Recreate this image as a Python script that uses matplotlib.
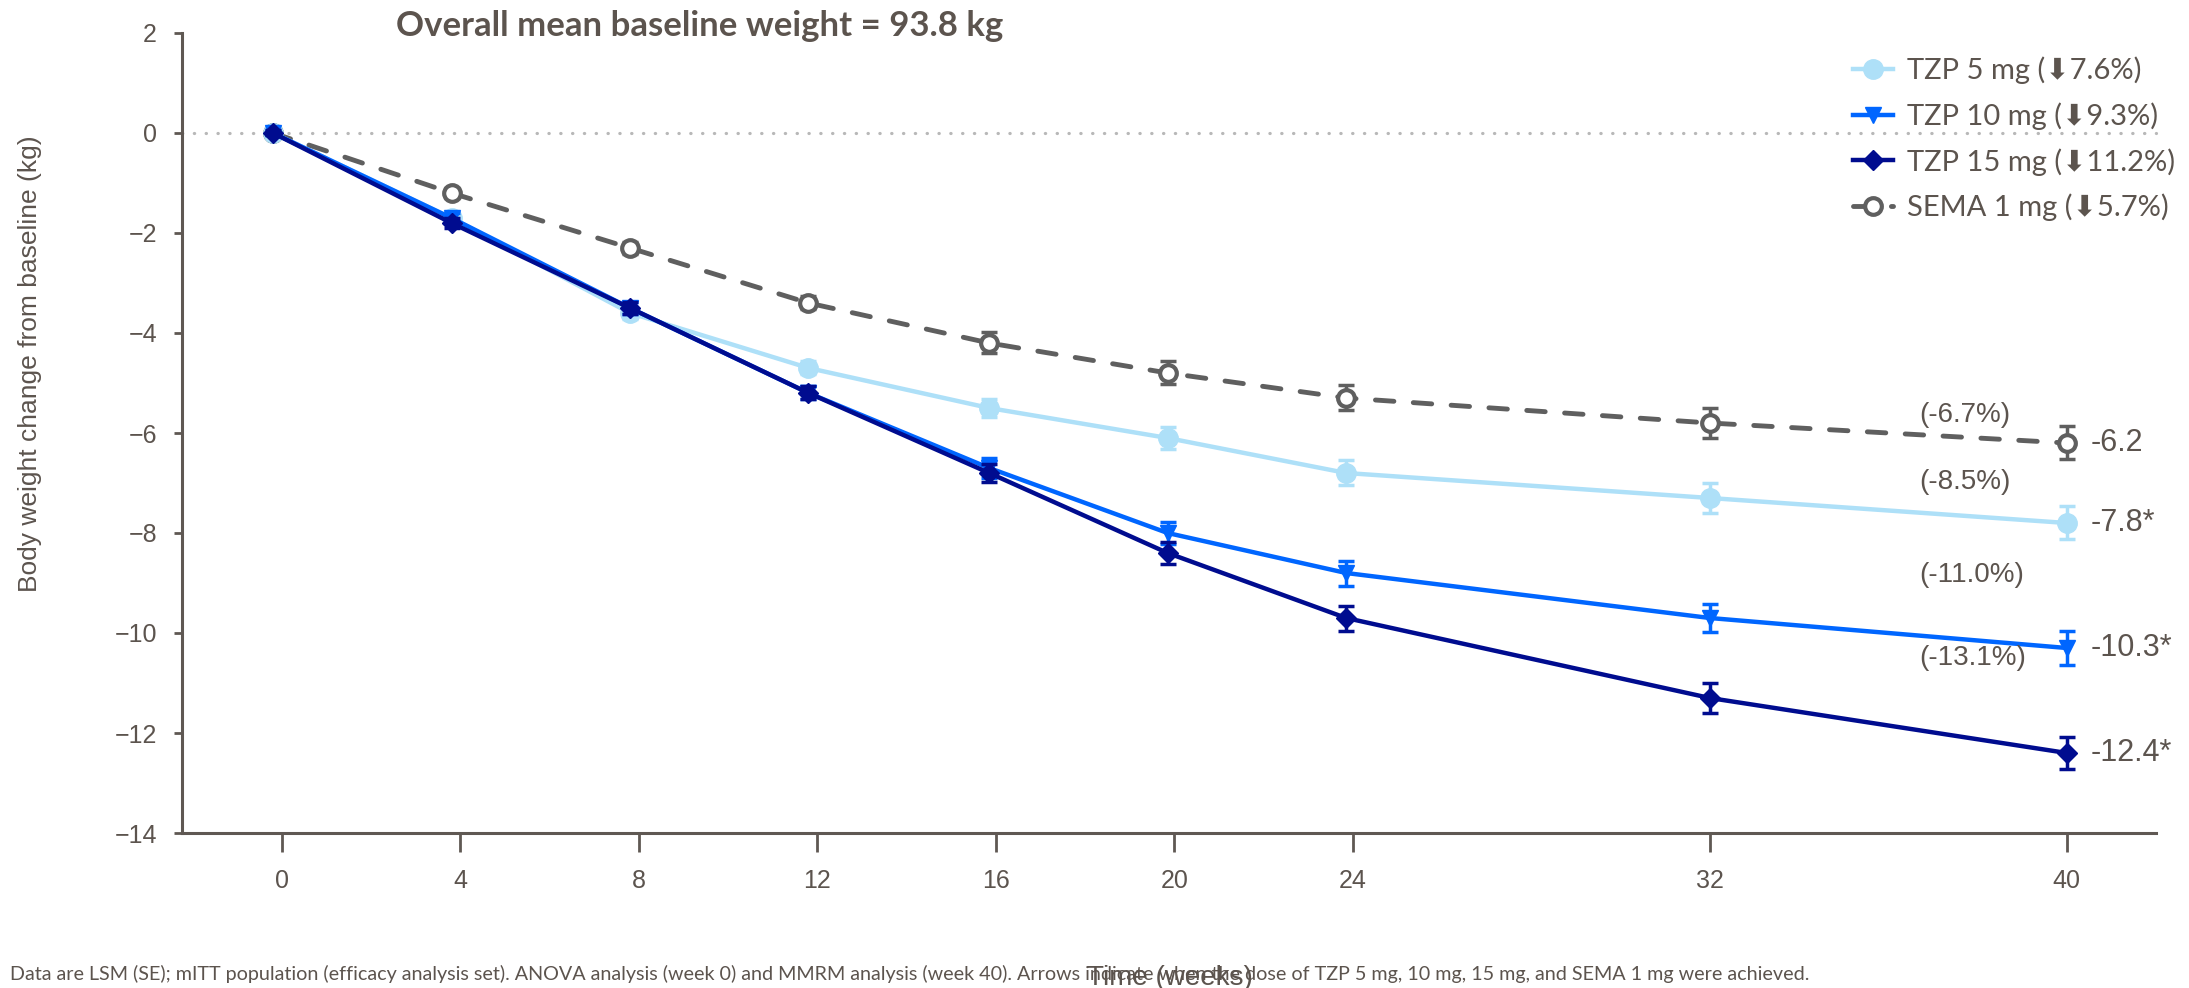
import numpy as np
import matplotlib.pyplot as plt

# visits (weeks) and the plotted visit positions
weeks = [0, 4, 8, 12, 16, 20, 24, 32, 40]
visit_pos = [-0.2, 3.8, 7.8, 11.8, 15.85, 19.85, 23.85, 32, 40]

# LSM change from baseline (kg)
tzp5 = [0, -1.7, -3.6, -4.7, -5.5, -6.1, -6.8, -7.3, -7.8]
tzp10 = [0, -1.7, -3.5, -5.2, -6.7, -8.0, -8.8, -9.7, -10.3]
tzp15 = [0, -1.8, -3.5, -5.2, -6.8, -8.4, -9.7, -11.3, -12.4]
sema1 = [0, -1.2, -2.3, -3.4, -4.2, -4.8, -5.3, -5.8, -6.2]

# SE
se5 = [0.05, 0.1, 0.12, 0.13, 0.18, 0.22, 0.25, 0.3, 0.33]
se10 = [0.05, 0.1, 0.12, 0.13, 0.2, 0.22, 0.25, 0.29, 0.34]
se15 = [0.05, 0.1, 0.12, 0.13, 0.18, 0.22, 0.25, 0.3, 0.32]
sema_se = [0.05, 0.1, 0.12, 0.13, 0.21, 0.23, 0.25, 0.3, 0.33]

labels = ["TZP 5 mg", "TZP 10 mg", "TZP 15 mg", "SEMA 1 mg"]
pct_drop = [7.6, 9.3, 11.2, 5.7]
pct_week40 = ["(-8.5%)", "(-11.0%)", "(-13.1%)", "(-6.7%)"]
stars = ["*", "*", "*", ""]

txt = "#5c544e"
spine_c = "#5f5853"
colors = ["#aee0f8", "#0066ff", "#000c8f", "#5f5f5f"]
arial = ["Liberation Sans", "DejaVu Sans"]
cal = ["Lato", "DejaVu Sans"]

fig = plt.figure(figsize=(21.89, 9.88), dpi=100)
ax = fig.add_axes([182 / 2189, 1 - 833 / 988, (2156 - 182) / 2189, (833 - 33) / 988])
ax.set_xlim(-2.24, 42)
ax.set_ylim(-14, 2)

ax.axhline(0, color="#b8b8b8", lw=2.3, dashes=(0.1, 3.6), dash_capstyle="round",
           zorder=0, clip_on=False)

series = [tzp5, tzp10, tzp15, sema1]
ses = [se5, se10, se15, sema_se]
markers = ["o", "v", "D", "o"]
msizes = [14, 11, 10.5, 12]
zs = [2, 3, 4, 1]
handles = []
for i in range(4):
    c = colors[i]
    ax.errorbar(visit_pos, series[i], yerr=ses[i], fmt="none", ecolor=c,
                elinewidth=2.5, capsize=6, capthick=2.5, zorder=zs[i])
    if i == 3:
        ln, = ax.plot(visit_pos, series[i], color=c, lw=3.5, dashes=(3.8, 4.0),
                      dash_capstyle="round", marker="o", ms=msizes[i],
                      mfc="white", mec=c, mew=3, zorder=zs[i])
    else:
        ln, = ax.plot(visit_pos, series[i], color=c, lw=3.2, marker=markers[i],
                      ms=msizes[i], mfc=c, mec=c, zorder=zs[i])
    handles.append(ln)

# end-of-study labels
pct_y = [-6.98, -8.84, -10.5, -5.64]
for i in range(4):
    ax.text(40.54, series[i][-1], f"{series[i][-1]:.1f}{stars[i]}", color=txt,
            fontsize=22, family=arial, va="center", ha="left")
    ax.text(36.7, pct_y[i], pct_week40[i], color=txt, fontsize=20,
            family=arial, va="center", ha="left")

for s in ["top", "right"]:
    ax.spines[s].set_visible(False)
for s in ["left", "bottom"]:
    ax.spines[s].set_color(spine_c)
    ax.spines[s].set_linewidth(2.2)

ax.set_xticks(weeks)
ax.set_yticks(np.arange(-14, 3, 2))
ax.tick_params(axis="x", length=14, width=2, color=spine_c, pad=12,
               labelsize=18, labelcolor=txt)
ax.tick_params(axis="y", length=6, width=2, color=spine_c, pad=12,
               labelsize=18, labelcolor=txt)
for lab in ax.get_xticklabels() + ax.get_yticklabels():
    lab.set_family(arial)

fig.text(30 / 2189, 1 - 135 / 988, "Body weight change from baseline (kg)",
         rotation=90, ha="center", va="top", fontsize=19, color=txt, family=arial)
fig.text(1170 / 2189, 1 - 978 / 988, "Time (weeks)", ha="center", va="center",
         fontsize=20, color=txt, family=arial)
fig.text(10 / 2189, 1 - 974 / 988,
         "Data are LSM (SE); mITT population (efficacy analysis set). ANOVA analysis "
         "(week 0) and MMRM analysis (week 40). Arrows indicate when the dose of "
         "TZP 5 mg, 10 mg, 15 mg, and SEMA 1 mg were achieved.",
         ha="left", va="center", fontsize=14.2, color=txt, family=cal)
fig.text(700 / 2189, 1 - 26 / 988, "Overall mean baseline weight = 93.8 kg",
         ha="center", va="center", fontsize=25, fontweight="bold", color=txt,
         family=cal)

leg_labels = [f"{labels[i]} (\u2B07{pct_drop[i]}%)" for i in range(4)]
leg = fig.legend(handles, leg_labels, loc="upper left",
                 bbox_to_anchor=(1838 / 2189, 1 - 42 / 988), frameon=False,
                 borderpad=0, handlelength=1.4, handletextpad=0.45,
                 labelspacing=0.62, prop={"family": cal, "size": 21})
for t in leg.get_texts():
    t.set_color(txt)

fig.savefig("out.png", dpi=100)
